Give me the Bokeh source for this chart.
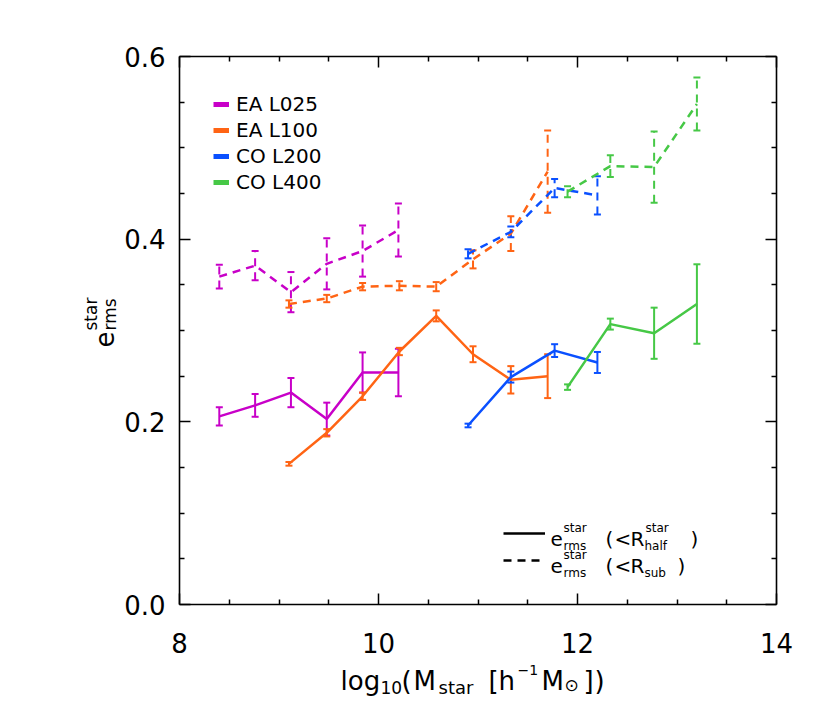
from bokeh.plotting import figure
from bokeh.models import (ColumnDataSource, Whisker, TeeHead, Legend, LegendItem, Label,
                          LinearAxis, FixedTicker, CustomJSTickFormatter, Range1d)
from bokeh.embed import file_html
from bokeh.resources import INLINE

FONT = "DejaVu Sans"
NAN = float("nan")

# ---------------- data ----------------
x_l025 = [8.40, 8.76, 9.12, 9.48, 9.84, 10.20]
y_l025_half = [0.206, 0.218, 0.232, 0.203, 0.254, 0.254]
e_l025_half = [0.010, 0.0125, 0.016, 0.018, 0.022, 0.026]
y_l025_sub = [0.359, 0.371, 0.342, 0.373, 0.387, 0.410]
e_l025_sub = [0.013, 0.016, 0.022, 0.028, 0.028, 0.029]

x_l100 = [9.10, 9.48, 9.84, 10.21, 10.58, 10.95, 11.33, 11.70]
y_l100_half = [0.154, 0.188, 0.228, 0.277, 0.316, 0.274, 0.246, 0.250]
e_l100_half = [0.002, 0.004, 0.004, 0.004, 0.006, 0.0087, 0.015, 0.024]
y_l100_sub = [0.329, 0.335, 0.348, 0.349, 0.348, 0.378, 0.406, 0.474]
e_l100_sub = [0.004, 0.004, 0.004, 0.005, 0.005, 0.010, 0.019, 0.045]

x_l200 = [10.90, 11.33, 11.77, 12.20]
y_l200_half = [0.196, 0.249, 0.278, 0.265]
e_l200_half = [0.002, 0.006, 0.007, 0.0115]
y_l200_sub = [0.384, 0.408, 0.456, 0.448]
e_l200_sub = [0.005, 0.006, 0.010, 0.021]

x_l400 = [11.90, 12.33, 12.77, 13.20]
y_l400_half = [0.238, 0.307, 0.297, 0.329]
e_l400_half = [0.003, 0.006, 0.028, 0.0435]
y_l400_sub = [0.452, 0.480, 0.479, 0.548]
e_l400_sub = [0.006, 0.012, 0.039, 0.029]

names = ["EA L025", "EA L100", "CO L200", "CO L400"]
colors = ["#C800C8", "#FF6414", "#0A50FF", "#46C846"]

x_ticks = [8, 10, 12, 14]
x_minor = [8.5, 9, 9.5, 10.5, 11, 11.5, 12.5, 13, 13.5]
y_ticks = [0.0, 0.2, 0.4, 0.6]
y_minor = [0.05, 0.1, 0.15, 0.25, 0.3, 0.35, 0.45, 0.5, 0.55]

series = [
    (names[0], colors[0], x_l025, y_l025_half, e_l025_half, y_l025_sub, e_l025_sub),
    (names[1], colors[1], x_l100, y_l100_half, e_l100_half, y_l100_sub, e_l100_sub),
    (names[2], colors[2], x_l200, y_l200_half, e_l200_half, y_l200_sub, e_l200_sub),
    (names[3], colors[3], x_l400, y_l400_half, e_l400_half, y_l400_sub, e_l400_sub),
]

DASH = "8 6"

# ---------------- layout (canvas pixels) ----------------
W, H = 826, 710
FL, FR, FT, FB = 179, 776, 56, 604      # where the axes box sits on the canvas
XMIN, XMAX, YMIN, YMAX = 8, 14, 0, 0.6
kx = (XMAX - XMIN) / (FR - FL)
ky = (YMAX - YMIN) / (FB - FT)

p = figure(width=W, height=H,
           x_range=Range1d(XMIN - FL * kx, XMAX + (W - FR) * kx),
           y_range=Range1d(YMIN - (H - FB) * ky, YMAX + FT * ky),
           output_backend="svg", toolbar_location=None, min_border=0,
           background_fill_color="white", border_fill_color="white")
p.grid.visible = False
p.outline_line_color = None
if p.title is not None:
    p.title.visible = False

xt = FixedTicker(ticks=x_ticks, minor_ticks=x_minor)
yt = FixedTicker(ticks=y_ticks, minor_ticks=y_minor)

bottom = p.xaxis[0]
bottom.ticker = xt
bottom.fixed_location = YMIN
bottom.bounds = (XMIN, XMAX)

left = p.yaxis[0]
left.ticker = yt
left.fixed_location = XMIN
left.bounds = (YMIN, YMAX)
left.formatter = CustomJSTickFormatter(code="return tick.toFixed(1)")

top = LinearAxis(ticker=xt, fixed_location=YMAX, bounds=(XMIN, XMAX),
                 formatter=CustomJSTickFormatter(code="return ''"))
right = LinearAxis(ticker=yt, fixed_location=XMAX, bounds=(YMIN, YMAX),
                   formatter=CustomJSTickFormatter(code="return ''"))
p.add_layout(top, "above")
p.add_layout(right, "right")

for ax in p.axis:
    ax.axis_line_width = 1.6
    ax.axis_line_color = "black"
    ax.major_tick_in = 11
    ax.major_tick_out = 0
    ax.minor_tick_in = 5
    ax.minor_tick_out = 0
    ax.major_tick_line_width = 1.5
    ax.minor_tick_line_width = 1.5
    ax.major_tick_line_color = "black"
    ax.minor_tick_line_color = "black"
    ax.major_label_text_font = FONT
    ax.major_label_text_font_size = "26px"
    ax.major_label_text_color = "black"
    ax.axis_label = None

bottom.major_label_standoff = 28
left.major_label_standoff = 14

# ---------------- data marks ----------------
for name, color, xs, yh, eh, ys, es in series:
    for yv, ev, dash in ((yh, eh, "solid"), (ys, es, DASH)):
        src = ColumnDataSource(dict(x=xs, y=yv,
                                    lo=[a - b for a, b in zip(yv, ev)],
                                    hi=[a + b for a, b in zip(yv, ev)]))
        p.line("x", "y", source=src, line_color=color, line_width=2.5, line_dash=dash)
        w = Whisker(base="x", lower="lo", upper="hi", source=src,
                    line_color=color, line_width=2, line_dash=dash,
                    upper_head=TeeHead(size=7, line_color=color, line_width=2),
                    lower_head=TeeHead(size=7, line_color=color, line_width=2))
        p.add_layout(w)

# ---------------- legend (top-left) ----------------
items = []
for name, color in zip(names, colors):
    r = p.line(x=[NAN], y=[NAN], line_color=color, line_width=5)
    items.append(LegendItem(label=name, renderers=[r]))
leg = Legend(items=items, location=(213, H - 194), padding=0, margin=0,
             border_line_color=None, background_fill_alpha=0,
             glyph_width=16, glyph_height=24, label_height=24, spacing=2,
             label_standoff=7, label_text_font=FONT, label_text_font_size="20px",
             label_text_color="black")
p.add_layout(leg)

# ---------------- legend (line styles, bottom-right) ----------------
r_s = p.line(x=[NAN], y=[NAN], line_color="black", line_width=2.5)
r_d = p.line(x=[NAN], y=[NAN], line_color="black", line_width=2.5, line_dash=DASH)
leg2 = Legend(items=[LegendItem(label=" ", renderers=[r_s]), LegendItem(label=" ", renderers=[r_d])],
              location=(503, H - 570), padding=0, margin=0,
              border_line_color=None, background_fill_alpha=0,
              glyph_width=42, glyph_height=20, label_height=20, spacing=7,
              label_standoff=2, label_text_font=FONT, label_text_font_size="13px")
p.add_layout(leg2)


def piece(px, py, text, size, angle=0.0):
    """Text piece whose baseline starts at canvas position (px, py) measured from top-left."""
    p.add_layout(Label(x=px, y=H - py, x_units="screen", y_units="screen", text=text,
                       text_font=FONT, text_font_size=f"{size}px", text_color="black",
                       text_align="left", text_baseline="alphabetic", angle=angle))


# legend texts: e_rms^star (<R_half^star)  and  e_rms^star (<R_sub)
for base, tail in ((538, [("R", 630, 20, 0), ("star", 645, 12, -11), ("half", 644, 12, 7), (")", 690, 20, 0)]),
                   (565, [("R", 630, 20, 0), ("sub", 644, 12, 7), (")", 677, 20, 0)])):
    piece(550, base, "e", 20)
    piece(563, base - 11, "star", 12)
    piece(563, base + 7, "rms", 12)
    piece(605, base, "(", 20)
    piece(614, base, "<", 20)
    for t, px, s, dy in tail:
        piece(px, base + dy, t, s)

# x axis title: log10(M_star [h^-1 M_sun])
XB = 680
piece(340, XB, "log", 26)
piece(380, XB + 7, "10", 17)
piece(401, XB, "(", 26)
piece(413, XB, "M", 26)
piece(438, XB + 7, "star", 18)
piece(488, XB, "[", 26)
piece(498, XB, "h", 26)
piece(517, XB - 11, "\u22121", 14)
piece(541, XB, "M", 26)
piece(564, XB + 4, "\u2299", 17)
piece(583, XB, "]", 26)
piece(594, XB, ")", 26)

# y axis title: e_rms^star (rotated)
ROT = 1.5707963
piece(103, 347, "e", 26, ROT)
piece(90, 330, "star", 17, ROT)
piece(109, 330, "rms", 17, ROT)

open("out.html", "w").write(file_html(p, INLINE))
